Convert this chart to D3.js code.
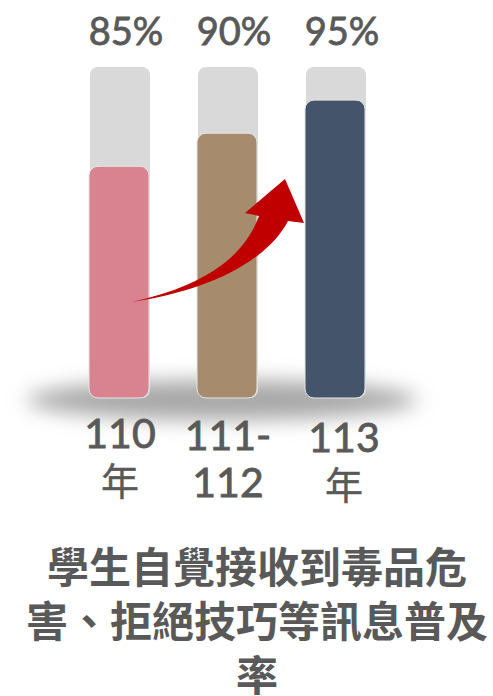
<!DOCTYPE html>
<html>
<head>
<meta charset="utf-8">
<script src="https://cdn.jsdelivr.net/npm/d3@7/dist/d3.min.js"></script>
<style>
  html, body { margin: 0; padding: 0; background: #ffffff; }
  svg { display: block; }
</style>
</head>
<body>
<svg id="chart" width="493" height="696"></svg>
<script>
// ---- data ----
const categories = ["110年", "111-112", "113年"];
const categoryLines = [["110", "年"], ["111-", "112"], ["113", "年"]];
const values = [85, 90, 95];
const valueLabels = ["85%", "90%", "95%"];
const barColors = ["#D98390", "#A78B6D", "#44546A"];
const titleLines = ["學生自覺接收到毒品危", "害、拒絕技巧等訊息普及", "率"];

// ---- layout ----
const W = 493, H = 696;
const svg = d3.select("#chart");
const textColor = "#595959";
const font = "Lato, 'Open Sans', 'Noto Sans CJK TC', sans-serif";
const cjkFont = "'Noto Sans CJK TC', 'Noto Sans', sans-serif";

const x = d3.scalePoint().domain(categories).range([120, 336]);
const y = d3.scaleLinear().domain([50, 100]).range([398, 67]);
const barW = 60;

const defs = svg.append("defs");
const blur = defs.append("filter").attr("id", "shadowBlur")
  .attr("x", "-30%").attr("y", "-100%").attr("width", "160%").attr("height", "300%");
blur.append("feGaussianBlur").attr("stdDeviation", 10);

// floor shadow
svg.append("ellipse")
  .attr("cx", 222).attr("cy", 400)
  .attr("rx", 195).attr("ry", 20)
  .attr("fill", "#a8a8a8")
  .attr("filter", "url(#shadowBlur)");

// background tracks
svg.append("g").selectAll("rect")
  .data(categories)
  .join("rect")
  .attr("x", d => x(d) - barW / 2)
  .attr("y", y(100))
  .attr("width", barW)
  .attr("height", y(50) - y(100))
  .attr("rx", 8)
  .attr("fill", "#D9D9D9");

// value bars
svg.append("g").selectAll("rect")
  .data(values)
  .join("rect")
  .attr("x", (d, i) => x(categories[i]) - barW / 2 - 1)
  .attr("y", d => y(d))
  .attr("width", barW)
  .attr("height", d => y(50) - y(d))
  .attr("rx", 9)
  .attr("fill", (d, i) => barColors[i])
  .attr("stroke", "#e6e6e6")
  .attr("stroke-width", 1);

// curved arrow annotation
const p = d3.path();
p.moveTo(132, 302);
p.bezierCurveTo(185, 290, 240, 268, 259, 216);   // upper edge
p.lineTo(245, 213);                              // left barb
p.lineTo(285, 179);                              // tip
p.lineTo(304, 223);                              // right barb
p.lineTo(288, 221);
p.bezierCurveTo(265, 265, 200, 292, 132, 302);   // lower edge
p.closePath();
svg.append("path").attr("d", p.toString()).attr("fill", "#C00000");

// value labels
svg.append("g").selectAll("text")
  .data(valueLabels)
  .join("text")
  .attr("x", (d, i) => x(categories[i]) + 6)
  .attr("y", 45)
  .attr("text-anchor", "middle")
  .attr("font-family", font)
  .attr("font-size", 38)
  .attr("fill", textColor)
  .attr("stroke", textColor)
  .attr("stroke-width", 0.8)
  .text(d => d);

// category labels (one text per line)
categoryLines.forEach((lines, i) => {
  svg.append("g").selectAll("text")
    .data(lines)
    .join("text")
    .attr("x", x(categories[i]) + (i === 2 ? 8 : 0))
    .attr("y", (d, j) => 448 + j * 47 + i * 2)
    .attr("text-anchor", "middle")
    .attr("font-family", (d) => /\d/.test(d) ? font : cjkFont)
    .attr("font-size", (d) => /\d/.test(d) ? 41 : 38)
    .attr("fill", textColor)
    .attr("stroke", textColor)
    .attr("stroke-width", (d) => /\d/.test(d) ? 0.8 : 0.4)
    .text(d => d);
});

// title
svg.append("g").selectAll("text")
  .data(titleLines)
  .join("text")
  .attr("x", 257)
  .attr("y", (d, i) => 583 + i * 54)
  .attr("text-anchor", "middle")
  .attr("font-family", cjkFont)
  .attr("font-weight", "bold")
  .attr("font-size", 42)
  .attr("fill", textColor)
  .text(d => d);
</script>
</body>
</html>
